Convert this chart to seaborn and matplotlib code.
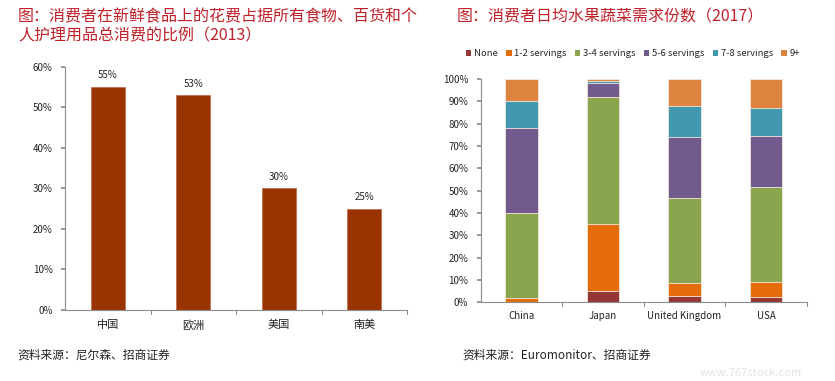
import matplotlib
matplotlib.use("Agg")
import matplotlib.pyplot as plt
import seaborn as sns
import numpy as np
import pandas as pd
from matplotlib.patches import Patch

sns.set_theme(style="white")
plt.rcParams['font.family'] = ['Noto Sans CJK SC', 'DejaVu Sans']

# ---- data: left chart ----
left_title = "图：消费者在新鲜食品上的花费占据所有食物、百货和个\n人护理用品总消费的比例（2013）"
left_cats = ["中国", "欧洲", "美国", "南美"]
left_vals = [55, 53, 30, 25]
left_source = "资料来源：尼尔森、招商证券"

# ---- data: right chart ----
right_title = "图：消费者日均水果蔬菜需求份数（2017）"
right_cats = ["China", "Japan", "United Kingdom", "USA"]
series_names = ["None", "1-2 servings", "3-4 servings", "5-6 servings", "7-8 servings", "9+"]
none_vals = [0, 5, 3, 2.5]
s12_vals = [2, 30, 5.5, 6.5]
s34_vals = [38, 57, 38, 42.5]
s56_vals = [38, 6, 27.5, 23]
s78_vals = [12, 1, 14, 12.5]
s9p_vals = [10, 1, 12, 13]
right_source = "资料来源：Euromonitor、招商证券"

series_colors = ["#953735", "#E46C0A", "#8BA54E", "#725A8C", "#4298AF", "#DD8440"]
title_color = "#C0202A"
axis_color = "#8C8C8C"

fig = plt.figure(figsize=(8.35, 3.81), dpi=100)

# ---------------- left chart ----------------
ax1 = fig.add_axes([65/835, 1-310/381, 342/835, (310-66.7)/381])
dfl = pd.DataFrame({"cat": left_cats, "val": left_vals})
sns.barplot(data=dfl, x="cat", y="val", color="#993300", saturation=1,
            width=0.4, edgecolor="#C07050", linewidth=0.6, ax=ax1)
ax1.set_ylim(0, 60)
ax1.set_xlim(-0.5, 3.5)
ax1.set_yticks(range(0, 61, 10))
ax1.set_yticklabels([f"{v}%" for v in range(0, 61, 10)], fontsize=7, color="#222222")
ax1.set_xticks(range(4))
ax1.set_xticklabels(left_cats, fontsize=8, color="#222222")
ax1.tick_params(axis="x", length=0, pad=7)
ax1.tick_params(axis="y", length=3, color=axis_color, pad=6, direction="out", left=True)
for x in [0.5, 1.5, 2.5, 3.5]:
    ax1.plot([x, x], [0, -1.0], color=axis_color, lw=0.8, clip_on=False)
for i, v in enumerate(left_vals):
    ax1.text(i, v + 1.6, f"{v}%", ha="center", va="bottom", fontsize=7, color="#222222")
ax1.set_xlabel("")
ax1.set_ylabel("")
for s in ["top", "right"]:
    ax1.spines[s].set_visible(False)
for s in ["left", "bottom"]:
    ax1.spines[s].set_color(axis_color)
    ax1.spines[s].set_linewidth(0.8)

# ---------------- right chart ----------------
ax2 = fig.add_axes([480.7/835, 1-302.3/381, 326/835, 223.3/381])
vals = np.array([none_vals, s12_vals, s34_vals, s56_vals, s78_vals, s9p_vals])
cum = np.cumsum(vals, axis=0)
for k in range(len(series_names) - 1, -1, -1):
    dfr = pd.DataFrame({"cat": right_cats, "val": cum[k]})
    sns.barplot(data=dfr, x="cat", y="val", color=series_colors[k], saturation=1,
                width=0.4, edgecolor="#F2E8E0", linewidth=0.6, ax=ax2)
ax2.set_ylim(0, 100)
ax2.set_xlim(-0.5, 3.5)
ax2.set_yticks(range(0, 101, 10))
ax2.set_yticklabels([f"{v}%" for v in range(0, 101, 10)], fontsize=7, color="#222222")
ax2.set_xticks(range(4))
ax2.set_xticklabels(right_cats, fontsize=7, color="#222222")
ax2.tick_params(axis="x", length=0, pad=6)
ax2.tick_params(axis="y", length=3, color=axis_color, pad=6, direction="out", left=True)
for x in [0.5, 1.5, 2.5, 3.5]:
    ax2.plot([x, x], [0, -1.6], color=axis_color, lw=0.8, clip_on=False)
ax2.set_xlabel("")
ax2.set_ylabel("")
for s in ["top", "right"]:
    ax2.spines[s].set_visible(False)
for s in ["left", "bottom"]:
    ax2.spines[s].set_color(axis_color)
    ax2.spines[s].set_linewidth(0.8)

handles = [Patch(facecolor=c, edgecolor="none") for c in series_colors]
fig.legend(handles, series_names, loc="center", bbox_to_anchor=(633/835, 1-54/381),
           ncol=6, frameon=False, fontsize=6.8, handlelength=0.6, handleheight=0.6,
           handletextpad=0.3, columnspacing=0.85)

# ---------------- titles & sources ----------------
fig.text(18/835, 1-8/381, left_title, ha="left", va="top", fontsize=11.5,
         color=title_color, linespacing=1.2)
fig.text(457/835, 1-8/381, right_title, ha="left", va="top", fontsize=11.5,
         color=title_color)
fig.text(17/835, 1-355/381, left_source, ha="left", va="center", fontsize=8.5, color="#222222")
fig.text(462/835, 1-355/381, right_source, ha="left", va="center", fontsize=8.5, color="#222222")
fig.text(700/835, 1-373/381, "www.767stock.com", ha="left", va="center", fontsize=8,
         color="#E3E3E3")

fig.savefig("out.png", dpi=100)
